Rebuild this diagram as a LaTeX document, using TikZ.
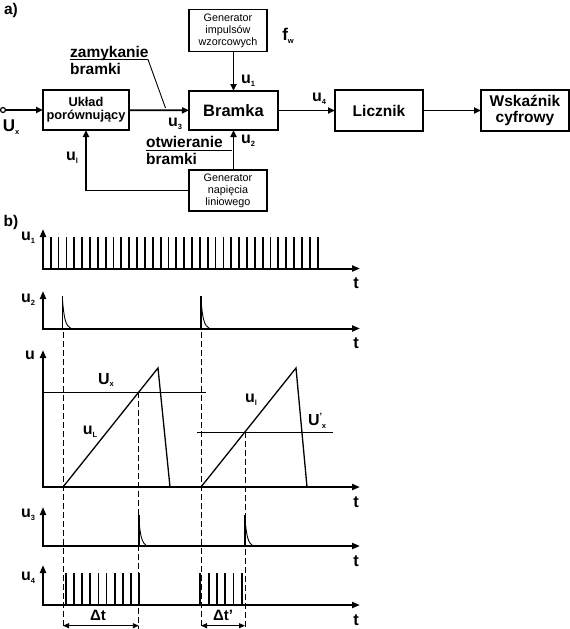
\documentclass[tikz,border=0pt]{standalone}
\usepackage{fontspec}
\setmainfont{Liberation Sans}
\usetikzlibrary{arrows.meta}
\newcommand\sub[1]{\raisebox{-0.35ex}{\fontsize{7.5}{7.5}\selectfont #1}}
\begin{document}
\begin{tikzpicture}[x=1pt,y=-1pt,
  box/.style={draw,line width=1.8pt,inner sep=0pt,outer sep=0pt,align=center},
  arr/.style={line width=1.8pt,-{Triangle[length=7pt,width=6pt]}},
  axis/.style={line width=2pt,{Triangle[length=8pt,width=6pt]}-{Triangle[length=8pt,width=6pt]}},
  thinl/.style={line width=0.9pt},
  dsh/.style={line width=0.9pt,dash pattern=on 6pt off 3pt},
  pulse/.style={line width=1.8pt},
  ramp/.style={line width=1.3pt},
  big/.style={font=\fontsize{15.5}{16}\selectfont\bfseries,inner sep=0pt},
  small/.style={font=\fontsize{10.8}{12}\selectfont},
  lab/.style={font=\fontsize{16}{16}\selectfont\bfseries,inner sep=0pt},
  tlab/.style={font=\fontsize{16.5}{16.5}\selectfont\bfseries,inner sep=0pt},
]
\useasboundingbox (0,0) rectangle (570,629);

% ---------------- a) block diagram ----------------
\node[big] (la) at (11,10) {a)};
\node[box,minimum width=78pt,minimum height=42pt,small] (gen1) at (228,30.5) {Generator\\impulsów\\wzorcowych};
\node[font=\fontsize{17}{17}\selectfont\bfseries,inner sep=0pt] (fw) at (288,36) {f\sub{w}};
\node[box,minimum width=89pt,minimum height=39pt,font=\fontsize{16.5}{17}\selectfont\bfseries] (bramka) at (233.5,110.5) {Bramka};
\node[box,minimum width=86pt,minimum height=40pt,font=\fontsize{12.8}{13}\selectfont\bfseries] (ukl) at (86,110) {Układ\\porównujący};
\node[box,minimum width=88pt,minimum height=41pt,font=\fontsize{15.5}{16}\selectfont\bfseries] (licz) at (379,110.5) {Licznik};
\node[box,minimum width=88pt,minimum height=41pt,font=\fontsize{15.5}{16}\selectfont\bfseries] (wsk) at (525,110.5) {Wskaźnik\\cyfrowy};
\node[box,minimum width=78pt,minimum height=41pt,small] (gen2) at (228,190.5) {Generator\\napięcia\\liniowego};

\node[circle,draw,line width=1.2pt,inner sep=0pt,minimum size=5pt] (in) at (3,110) {};
\node[font=\fontsize{17}{17}\selectfont\bfseries,inner sep=0pt] (ux) at (11,127) {U\sub{x}};

\draw[arr] (in) -- (ukl);
\draw[arr] (ukl) -- (bramka);
\draw[arr] (gen1.south -| bramka.north) -- (bramka.north);
\draw[arr] (gen2.north -| bramka.south) -- (bramka.south);
\draw[arr] (bramka) -- (licz);
\draw[arr] (licz) -- (wsk);
\draw[arr] (gen2.west) -| (ukl.south);

\node[lab] (u1t) at (248,81) {u\sub{1}};
\node[lab] (u2t) at (248,141) {u\sub{2}};
\node[lab] (u3t) at (175,124) {u\sub{3}};
\node[lab] (u4t) at (319,99) {u\sub{4}};
\node[lab] (ult) at (72,158) {u\sub{l}};

\node[big,anchor=base west] (zam) at (70,57) {zamykanie};
\node[big,anchor=base west] (zbr) at (70,74) {bramki};
\coordinate (zk) at (165.5,108);
\draw[thinl] (70,59.5) -- (148,59.5) -- (zk);

\node[big,anchor=base west] (otw) at (146,147) {otwieranie};
\node[big,anchor=base west] (obr) at (146,164) {bramki};
\coordinate (ok) at (232,150.7);
\draw[thinl] (146,150.7) -- (ok);

% ---------------- b) time diagrams ----------------
\node[big] (lb) at (11,222) {b)};

\foreach \b/\t in {268.5/229, 328.5/291, 487/350, 546/507, 605/565}{
  \draw[axis] (43,\t) -- (43,\b) -- (360,\b);
  \node[tlab] at (356,\b+15) {t};
}
\node[lab] (a1) at (28,238) {u\sub{1}};
\node[lab] (a2) at (28,300) {u\sub{2}};
\node[lab] (a3) at (30,355) {u};
\node[lab] (a4) at (28,515) {u\sub{3}};
\node[lab] (a5) at (28,578) {u\sub{4}};

% u1 pulses
\foreach \k in {0,...,34}{
  \draw[pulse] ({50.7+7.85*\k},268.5) -- ({50.7+7.85*\k},237);
}
% u2 pulses
\foreach \x in {62.5,201}{
  \draw[pulse] (\x,328.5) -- (\x,296);
  \draw[thinl] (\x,300) .. controls (\x+1.5,318) and (\x+3,326) .. (\x+8.5,328.5);
}
% u3 pulses
\foreach \x in {138.8,245}{
  \draw[pulse] (\x,546) -- (\x,515);
  \draw[thinl] (\x,519) .. controls (\x+1.5,536) and (\x+3,543) .. (\x+8,546);
}
% u4 pulses
\foreach \k in {0,...,9}{
  \draw[pulse] ({66+8.1*\k},605) -- ({66+8.1*\k},573);
}
\foreach \k in {0,...,5}{
  \draw[pulse] ({200.3+8.3*\k},605) -- ({200.3+8.3*\k},573);
}

% ramps
\draw[ramp] (63,487) -- (158,368) -- (170,487);
\draw[ramp] (201,487) -- (296,368) -- (307,487);
\draw[thinl] (43,392) -- (206,392);
\draw[thinl] (197,432) -- (333,432);
\node[lab] (lux) at (106,380) {U\sub{x}};
\node[lab] (lul) at (90,432) {u\sub{L}};
\node[lab] (lul2) at (251,400) {u\sub{l}};
\node[lab] (lux2) at (317,421) {U\raisebox{0.7ex}{\fontsize{9}{9}\selectfont '}\kern-0.3pt\sub{x}};

% dashed verticals
\draw[dsh] (63,332) -- (63,629);
\draw[dsh] (201,332) -- (201,629);
\draw[dsh] (138.8,392) -- (138.8,629);
\draw[dsh] (245,432) -- (245,629);

% delta t
\draw[thinl,{Triangle[length=6pt,width=5pt]}-{Triangle[length=6pt,width=5pt]}] (63,625.7) -- (138.8,625.7);
\draw[thinl,{Triangle[length=6pt,width=5pt]}-{Triangle[length=6pt,width=5pt]}] (201,625.7) -- (245,625.7);
\node[font=\fontsize{15}{15}\selectfont\bfseries,inner sep=0pt] (dt) at (98,615) {Δt};
\node[font=\fontsize{15}{15}\selectfont\bfseries,inner sep=0pt] (dt2) at (223,615) {Δt'};
\end{tikzpicture}
\end{document}
